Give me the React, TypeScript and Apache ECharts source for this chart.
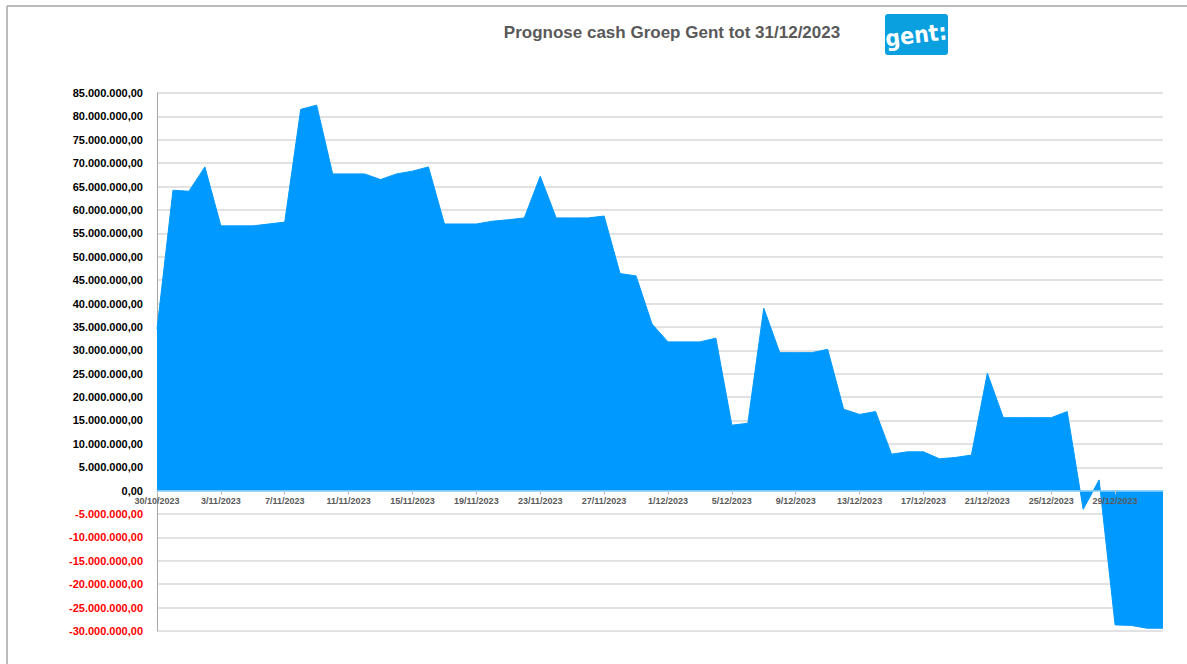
import React, { useEffect, useRef } from "react";
import * as echarts from "echarts";

const TITLE = "Prognose cash Groep Gent tot 31/12/2023";
const START_DATE = [2023, 9, 30]; // 30/10/2023
const DAY_COUNT = 64;

const CASH_MILLIONS = [
  34.5, 64.2, 64.0, 69.2, 56.6, 56.6, 56.6, 57.0, 57.4, 81.5, 82.4, 67.7, 67.7, 67.7, 66.5, 67.7,
  68.3, 69.2, 57.0, 57.0, 57.0, 57.6, 57.9, 58.3, 67.2, 58.3, 58.3, 58.3, 58.7, 46.4, 45.9, 35.6,
  31.8, 31.8, 31.8, 32.6, 14.0, 14.4, 39.0, 29.5, 29.5, 29.5, 30.2, 17.4, 16.3, 16.9, 7.8, 8.3,
  8.3, 6.8, 7.1, 7.6, 25.1, 15.6, 15.6, 15.6, 15.6, 16.9, -4.0, 2.3, -28.7, -28.8, -29.4, -29.4,
];

const Y_MIN = -30000000;
const Y_MAX = 85000000;
const Y_STEP = 5000000;

const GRID_TOP = 93;
const GRID_BOTTOM = 33;
const CHART_H = 664;

function buildDates(): string[] {
  const out: string[] = [];
  const d = new Date(START_DATE[0], START_DATE[1], START_DATE[2]);
  for (let i = 0; i < DAY_COUNT; i++) {
    out.push(`${d.getDate()}/${d.getMonth() + 1}/${d.getFullYear()}`);
    d.setDate(d.getDate() + 1);
  }
  return out;
}

function fmt(n: number): string {
  const s = Math.abs(Math.round(n)).toString().replace(/\B(?=(\d{3})+(?!\d))/g, ".");
  return (n < 0 ? "-" : "") + s + ",00";
}

export default function App() {
  const ref = useRef<HTMLDivElement>(null);
  useEffect(() => {
    if (!ref.current) return;
    const chart = echarts.init(ref.current, null, { renderer: "svg" });
    const dates = buildDates();
    const values = CASH_MILLIONS.map((v) => Math.round(v * 1000000));
    const plotH = CHART_H - GRID_TOP - GRID_BOTTOM;
    const zeroFromBottom = (plotH * (0 - Y_MIN)) / (Y_MAX - Y_MIN);
    chart.setOption({
      animation: false,
      backgroundColor: "#ffffff",
      grid: { left: 157, right: 24, top: GRID_TOP, bottom: GRID_BOTTOM, containLabel: false },
      xAxis: {
        type: "category",
        data: dates,
        boundaryGap: false,
        position: "bottom",
        offset: -zeroFromBottom,
        axisLine: { onZero: false, lineStyle: { color: "#8fd3f7", width: 1.5 } },
        axisTick: { show: true, interval: 3, length: 4, lineStyle: { color: "#bfbfbf" } },
        axisLabel: {
          interval: 3,
          color: "#595959",
          fontFamily: "Liberation Sans",
          fontWeight: "bold",
          fontSize: 9,
          margin: 6,
        },
        splitLine: { show: false },
        z: 5,
      },
      yAxis: {
        type: "value",
        min: Y_MIN,
        max: Y_MAX,
        interval: Y_STEP,
        axisLine: { show: true, lineStyle: { color: "#a6a6a6", width: 1 } },
        axisTick: { show: false },
        axisLabel: {
          formatter: (v: number) => fmt(v),
          color: (v: any) => (Number(v) < 0 ? "#ff0000" : "#000000"),
          fontFamily: "Liberation Sans",
          fontWeight: "bold",
          fontSize: 11,
          margin: 14,
        },
        splitLine: { show: true, lineStyle: { color: "#d9d9d9", width: 1.5 } },
      },
      series: [
        {
          type: "line",
          data: values,
          symbol: "none",
          lineStyle: { color: "#0099ff", width: 1 },
          areaStyle: { color: "#0099ff", opacity: 1, origin: 0 },
          z: 3,
        },
      ],
      graphic: [
        {
          type: "line",
          shape: { x1: 7, y1: 6, x2: 1187, y2: 6 },
          style: { stroke: "#a6a6a6", lineWidth: 1.5 },
        },
        {
          type: "line",
          shape: { x1: 7, y1: 6, x2: 7, y2: 664 },
          style: { stroke: "#a6a6a6", lineWidth: 1.5 },
        },
        {
          type: "text",
          x: 672,
          y: 32,
          style: {
            text: TITLE,
            fill: "#595959",
            font: "bold 17px 'Liberation Sans'",
            textAlign: "center",
            textVerticalAlign: "middle",
          },
        },
        {
          type: "rect",
          z: 10,
          shape: { x: 885, y: 14, width: 63, height: 41, r: 3 },
          style: { fill: "#0aa0e0" },
        },
        {
          type: "text",
          z: 11,
          x: 916,
          y: 35,
          rotation: 0.12,
          style: {
            text: "gent:",
            fill: "#ffffff",
            font: "bold 23px 'DejaVu Sans Condensed', 'Liberation Sans', sans-serif",
            textAlign: "center",
            textVerticalAlign: "middle",
          },
        },
      ],
    });
    return () => chart.dispose();
  }, []);
  return (
    <div
      ref={ref}
      style={{ position: "fixed", left: 0, top: 0, width: 1187, height: 664, background: "#fff" }}
    />
  );
}
